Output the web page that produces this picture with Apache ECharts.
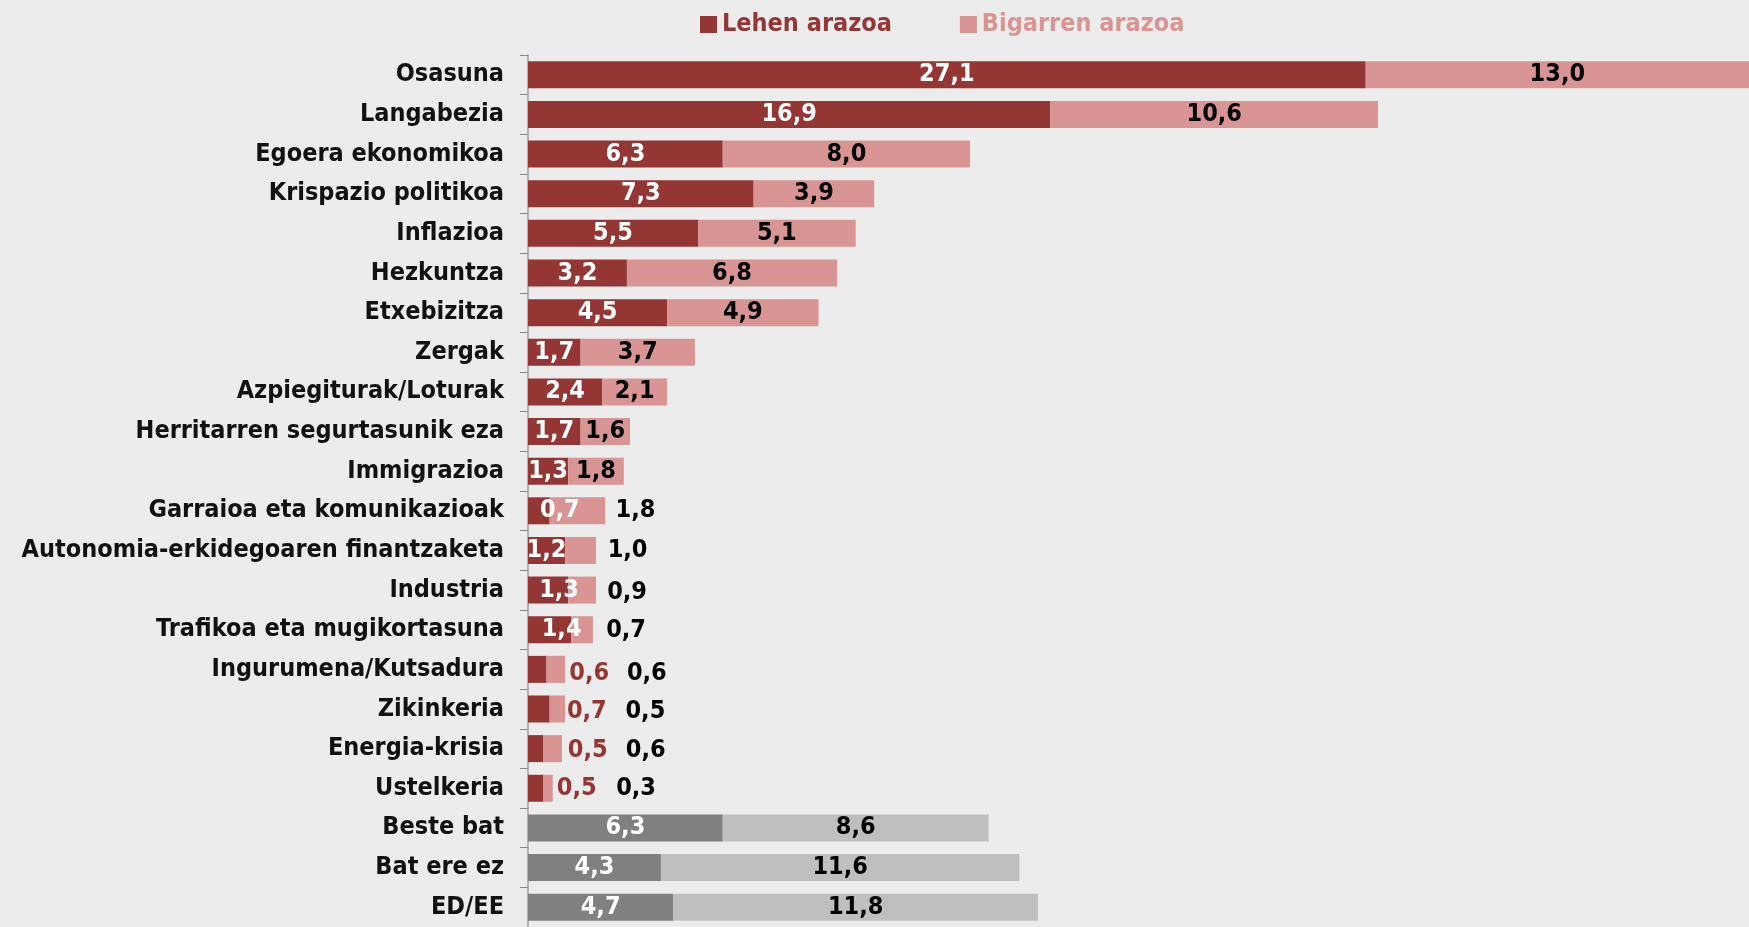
<!DOCTYPE html>
<html>
<head>
<meta charset="utf-8">
<script src="https://cdn.jsdelivr.net/npm/echarts@6/dist/echarts.min.js"></script>
<style>
  html, body { margin: 0; padding: 0; background: #ececec; }
  #chart { width: 1749px; height: 927px; }
</style>
</head>
<body>
<div id="chart"></div>
<script>
const categories = [
  "Osasuna", "Langabezia", "Egoera ekonomikoa", "Krispazio politikoa", "Inflazioa",
  "Hezkuntza", "Etxebizitza", "Zergak", "Azpiegiturak/Loturak", "Herritarren segurtasunik eza",
  "Immigrazioa", "Garraioa eta komunikazioak", "Autonomia-erkidegoaren finantzaketa", "Industria",
  "Trafikoa eta mugikortasuna", "Ingurumena/Kutsadura", "Zikinkeria", "Energia-krisia",
  "Ustelkeria", "Beste bat", "Bat ere ez", "ED/EE"
];
const firstProblem = [27.1, 16.9, 6.3, 7.3, 5.5, 3.2, 4.5, 1.7, 2.4, 1.7, 1.3, 0.7, 1.2, 1.3, 1.4, 0.6, 0.7, 0.5, 0.5, 6.3, 4.3, 4.7];
const secondProblem = [13.0, 10.6, 8.0, 3.9, 5.1, 6.8, 4.9, 3.7, 2.1, 1.6, 1.8, 1.8, 1.0, 0.9, 0.7, 0.6, 0.5, 0.6, 0.3, 8.6, 11.6, 11.8];
const seriesNames = ["Lehen arazoa", "Bigarren arazoa"];
const neutralCategories = ["Beste bat", "Bat ere ez", "ED/EE"];

const RED = "#943634", PINK = "#d99594", DGREY = "#808080", LGREY = "#bfbfbf";
const FONT = "'Liberation Sans Narrow', 'DejaVu Sans Condensed', sans-serif";

// labels the original nudged out of the small segments
const firstNudge = { 11: [21, 0], 13: [11, 0], 14: [12, 0], 15: [52, 4], 16: [48, 2], 17: [52, 2], 18: [41, 0] };
const secondNudge = { 11: [58, 0], 12: [47, 0], 13: [45, 2], 14: [44, 1], 15: [91, 4], 16: [88, 2], 17: [93, 2], 18: [88, 0] };

const fmt = v => v.toFixed(1).replace(".", ",");

function buildData(values, neutralColor, nudge, outColor) {
  return values.map((v, i) => {
    const item = { value: v };
    if (neutralCategories.includes(categories[i])) item.itemStyle = { color: neutralColor };
    if (nudge[i]) {
      item.label = { offset: nudge[i] };
      if (outColor && nudge[i][0] > 30) item.label.color = outColor;
    }
    return item;
  });
}

const chart = echarts.init(document.getElementById("chart"));
chart.setOption({
  backgroundColor: "#ececec",
  animation: false,
  legend: {
    top: 7,
    left: 695,
    itemGap: 68,
    itemWidth: 17,
    itemHeight: 17,
    icon: "rect",
    textStyle: { fontFamily: FONT, fontWeight: "bold", fontSize: 25 },
    data: [
      { name: seriesNames[0], textStyle: { color: RED } },
      { name: seriesNames[1], textStyle: { color: PINK } }
    ]
  },
  grid: { left: 528, right: 0, top: 55, height: 876, containLabel: false },
  xAxis: { type: "value", min: 0, max: 39.5, show: false },
  yAxis: {
    type: "category",
    inverse: true,
    data: categories,
    axisLine: { lineStyle: { color: "#a0a0a0", width: 1.5 } },
    axisTick: { show: true, length: 8, lineStyle: { color: "#8c8c8c" } },
    axisLabel: { color: "#111", fontFamily: FONT, fontWeight: "bold", fontSize: 25, margin: 24 }
  },
  series: [
    {
      name: seriesNames[0],
      type: "bar",
      stack: "total",
      barWidth: 27,
      color: RED,
      label: {
        show: true, position: "inside", color: "#fff",
        fontFamily: FONT, fontWeight: "bold", fontSize: 25,
        formatter: p => fmt(p.value)
      },
      data: buildData(firstProblem, DGREY, firstNudge, RED)
    },
    {
      name: seriesNames[1],
      type: "bar",
      stack: "total",
      barWidth: 27,
      color: PINK,
      label: {
        show: true, position: "inside", color: "#000",
        fontFamily: FONT, fontWeight: "bold", fontSize: 25,
        formatter: p => fmt(p.value)
      },
      data: buildData(secondProblem, LGREY, secondNudge, null)
    }
  ]
});
</script>
</body>
</html>
